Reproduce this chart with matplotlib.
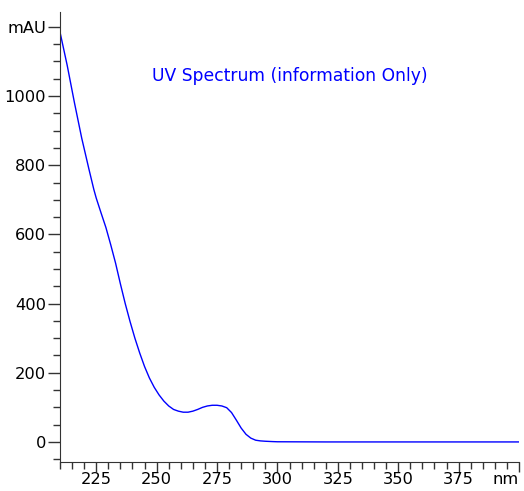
"""UV spectrum plot."""

import numpy as np
import matplotlib.pyplot as plt
from matplotlib.ticker import MultipleLocator

# wavelength (nm) and absorbance (mAU)
wavelength = [210, 213, 216, 219, 222, 224, 225, 227, 229, 231, 233, 235, 237,
              239, 241, 243, 245, 247, 249, 251, 253, 255, 257, 259, 261, 263,
              265, 267, 269, 271, 273, 275, 277, 279, 281, 283, 285, 287, 289,
              291, 293, 295, 298, 300, 320, 340, 360, 380, 400]
absorbance = [1185, 1088, 980, 878, 788, 730, 705, 662, 620, 570, 517, 457, 400,
              348, 300, 257, 218, 185, 158, 136, 118, 104, 94, 89, 86, 86,
              89, 94, 100, 104, 106, 106, 104, 99, 85, 63, 40, 22, 11,
              5, 3, 2, 1, 0.5, 0, 0, 0, 0, 0]

x_ticks = [225, 250, 275, 300, 325, 350, 375, 400]
x_labels = ["225", "250", "275", "300", "325", "350", "375", "nm"]
y_ticks = [0, 200, 400, 600, 800, 1000, 1200]
y_labels = ["0", "200", "400", "600", "800", "1000", "mAU"]

title = "UV Spectrum (information Only)"

fig = plt.figure(figsize=(5.24, 4.91), dpi=100)
ax = fig.add_axes([60 / 524, 29 / 491, 459 / 524, 450 / 491])

ax.plot(wavelength, absorbance, color="#0000ff", lw=1.0)

ax.set_xlim(210, 400)
ax.set_ylim(-58, 1243)

for side in ["top", "right"]:
    ax.spines[side].set_visible(False)
for side in ["left", "bottom"]:
    ax.spines[side].set_color("#333333")

ax.set_xticks(x_ticks, labels=x_labels)
ax.set_yticks(y_ticks, labels=y_labels)
ax.xaxis.set_minor_locator(MultipleLocator(5))
ax.yaxis.set_minor_locator(MultipleLocator(50))

ax.tick_params(which="major", width=1, color="#333333", labelsize=11.7)
ax.tick_params(axis="x", which="major", length=7, pad=0.5)
ax.tick_params(axis="y", which="major", length=9, pad=1)
ax.tick_params(which="minor", length=5, width=1, color="#333333")

ax.get_xticklabels()[-1].set_horizontalalignment("right")

ax.text(0.5, 0.858, title, transform=ax.transAxes, color="#0000ff",
        fontsize=12.3, ha="center", va="center")

fig.savefig("out.png", dpi=100)
